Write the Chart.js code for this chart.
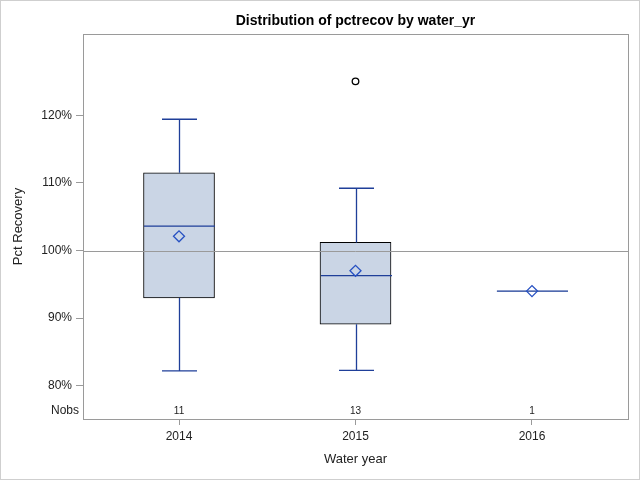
<!DOCTYPE html>
<html>
<head>
<meta charset="utf-8">
<script src="https://cdn.jsdelivr.net/npm/chart.js@4"></script>
<style>
html,body{margin:0;padding:0;background:#fff;}
#wrap{width:640px;height:480px;position:relative;}
</style>
</head>
<body>
<div id="wrap"><canvas id="c" width="640" height="480"></canvas></div>
<script>
const years = [2014, 2015, 2016];
const q1 = [93.0, 89.1, 94.0];
const q3 = [111.5, 101.2, 94.0];
const medians = [103.6, 96.3, 94.0];
const means = [102.1, 97.0, 94.0];
const whiskerLow = [82.2, 82.3, 94.0];
const whiskerHigh = [119.4, 109.2, 94.0];
const outliers = [[], [125.0], []];
const nobs = [11, 13, 1];
const yTicks = [80, 90, 100, 110, 120];
const refValue = 100;
const titleText = 'Distribution of pctrecov by water_yr';

const FONT = "'Liberation Sans', Arial, sans-serif";
const LINE_BLUE = '#1f3f99';
const BOX_W = 71, CAP_W = 35;

const boxPlugin = {
  id: 'boxPlugin',
  beforeDraw(chart) {
    const ctx = chart.ctx;
    ctx.save();
    ctx.fillStyle = '#fff';
    ctx.fillRect(0, 0, chart.width, chart.height);
    ctx.restore();
  },
  afterDatasetDraw(chart, args) {
    if (args.index !== 0) return;
    const ctx = chart.ctx, xs = chart.scales.x, ys = chart.scales.y, a = chart.chartArea;
    ctx.save();
    // reference line
    ctx.strokeStyle = '#9a9a9a';
    ctx.lineWidth = 1;
    const ry = Math.round(ys.getPixelForValue(refValue)) + 0.5;
    ctx.beginPath(); ctx.moveTo(a.left, ry); ctx.lineTo(a.right, ry); ctx.stroke();
    ctx.strokeStyle = LINE_BLUE;
    ctx.lineWidth = 1.3;
    years.forEach((yr, i) => {
      const cx = Math.round(xs.getPixelForValue(yr)) + 0.5;
      const p = v => ys.getPixelForValue(v);
      ctx.beginPath();
      if (whiskerLow[i] !== whiskerHigh[i]) {
        ctx.moveTo(cx, p(q3[i])); ctx.lineTo(cx, p(whiskerHigh[i]));
        ctx.moveTo(cx - CAP_W / 2, p(whiskerHigh[i])); ctx.lineTo(cx + CAP_W / 2, p(whiskerHigh[i]));
        ctx.moveTo(cx, p(q1[i])); ctx.lineTo(cx, p(whiskerLow[i]));
        ctx.moveTo(cx - CAP_W / 2, p(whiskerLow[i])); ctx.lineTo(cx + CAP_W / 2, p(whiskerLow[i]));
      }
      ctx.moveTo(cx - BOX_W / 2, p(medians[i])); ctx.lineTo(cx + BOX_W / 2, p(medians[i]));
      ctx.stroke();
    });
    ctx.restore();
  },
  afterDraw(chart) {
    const ctx = chart.ctx, xs = chart.scales.x, ys = chart.scales.y, a = chart.chartArea;
    ctx.save();
    // frame
    ctx.strokeStyle = '#9a9a9a';
    ctx.lineWidth = 1;
    ctx.strokeRect(Math.round(a.left) + 0.5, Math.round(a.top) + 0.5, Math.round(a.right - a.left), Math.round(a.bottom - a.top));
    // outer border
    ctx.strokeStyle = '#cfcfcf';
    ctx.strokeRect(0.5, 0.5, chart.width - 1, chart.height - 1);
    // title
    ctx.fillStyle = '#000';
    ctx.font = 'bold 14px ' + FONT;
    ctx.textAlign = 'center';
    ctx.textBaseline = 'middle';
    ctx.fillText(titleText, (a.left + a.right) / 2, 21);
    // Nobs
    const ny = a.bottom - 8;
    ctx.fillStyle = '#222';
    ctx.font = '12px ' + FONT;
    ctx.textAlign = 'right';
    ctx.fillText('Nobs', a.left - 4, ny);
    ctx.font = '10px ' + FONT;
    ctx.textAlign = 'center';
    years.forEach((yr, i) => ctx.fillText(String(nobs[i]), xs.getPixelForValue(yr), ny));
    ctx.restore();
  }
};

const outlierPts = [];
years.forEach((yr, i) => outliers[i].forEach(v => outlierPts.push({x: yr, y: v})));

new Chart(document.getElementById('c'), {
  type: 'bar',
  data: {
    datasets: [
      {
        type: 'bar',
        order: 3,
        data: years.map((yr, i) => ({x: yr, y: [q1[i], q3[i]]})),
        backgroundColor: '#cad5e5',
        borderColor: '#000',
        borderWidth: c => (q1[c.dataIndex] === q3[c.dataIndex] ? 0 : 1),
        borderSkipped: false,
        barThickness: BOX_W
      },
      {
        type: 'line',
        order: 1,
        data: years.map((yr, i) => ({x: yr, y: means[i]})),
        showLine: false,
        pointStyle: 'rectRot',
        pointRadius: 5.5,
        pointBorderColor: '#2650c2',
        pointBackgroundColor: 'rgba(0,0,0,0)',
        pointBorderWidth: 1.3
      },
      {
        type: 'line',
        order: 0,
        data: outlierPts,
        showLine: false,
        pointStyle: 'circle',
        pointRadius: 3.3,
        pointBorderColor: '#000',
        pointBackgroundColor: 'rgba(0,0,0,0)',
        pointBorderWidth: 1.3
      }
    ]
  },
  options: {
    responsive: false,
    animation: false,
    layout: {padding: {top: 34, right: 12, left: 0, bottom: 0}},
    plugins: {legend: {display: false}, tooltip: {enabled: false}, title: {display: false}},
    scales: {
      x: {
        type: 'linear',
        min: 2013.456,
        max: 2016.544,
        offset: false,
        afterBuildTicks: s => { s.ticks = years.map(v => ({value: v})); },
        afterFit: s => { s.height = 61; },
        grid: {drawOnChartArea: false, offset: false, tickLength: 6, color: '#9a9a9a'},
        border: {color: '#9a9a9a'},
        ticks: {callback: v => String(v), color: '#222', font: {family: FONT, size: 12}, padding: 4, maxRotation: 0, autoSkip: false},
        title: {display: true, text: 'Water year', color: '#222', font: {family: FONT, size: 13}, padding: {top: 0, bottom: 13}}
      },
      y: {
        type: 'linear',
        min: 75.1,
        max: 132,
        afterBuildTicks: s => { s.ticks = yTicks.map(v => ({value: v})); },
        afterFit: s => { s.width = 83; },
        grid: {drawOnChartArea: false, tickLength: 7, color: '#9a9a9a'},
        border: {color: '#9a9a9a'},
        ticks: {callback: v => v + '%', color: '#222', font: {family: FONT, size: 12}, padding: 4},
        title: {display: true, text: 'Pct Recovery', color: '#222', font: {family: FONT, size: 13}, padding: {top: 11, bottom: 0}}
      }
    }
  },
  plugins: [boxPlugin]
});
</script>
</body>
</html>
